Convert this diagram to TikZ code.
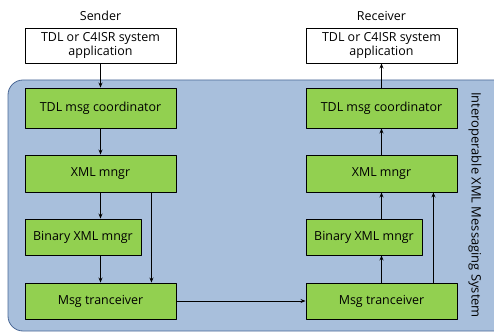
\documentclass[tikz,border=0pt]{standalone}
\usepackage{fontspec}
\setmainfont{Open Sans}
\usetikzlibrary{arrows.meta}
\definecolor{regionblue}{RGB}{168,191,220}
\definecolor{regionedge}{RGB}{74,104,150}
\definecolor{boxgreen}{RGB}{146,208,80}
\begin{document}
\begin{tikzpicture}[>={Stealth[length=5pt,width=4pt]},line join=bevel,
  every node/.style={font=\fontsize{12.5}{15}\selectfont},
  appbox/.style={draw,fill=white,line width=0.9bp,minimum width=151bp,minimum height=35bp,inner sep=0pt,align=center},
  compbox/.style={draw,fill=boxgreen,line width=0.9bp,minimum width=151bp,minimum height=37bp,inner sep=0pt},
  link/.style={black,line width=0.9bp,->}]
\useasboundingbox (0bp,0bp) rectangle (494bp,332bp);
%%
\fill[regionblue,draw=regionedge,line width=0.8bp,rounded corners=15bp] (8bp,1bp) rectangle (510bp,252bp);
\node (sender) at (100.5bp,316bp) {Sender};
\node (receiver) at (381.5bp,316bp) {Receiver};
  \node (app_s) at (100.5bp,286.5bp) [appbox] {TDL or C4ISR system\\[-1pt]application};
  \node (coord_s) at (100.5bp,224bp) [compbox,minimum height=40bp] {TDL msg coordinator};
  \node (xml_s) at (100.5bp,158.5bp) [compbox] {XML mngr};
  \node (bin_s) at (83bp,95bp) [compbox,minimum width=116bp,minimum height=36bp] {Binary XML mngr};
  \node (msg_s) at (100.5bp,31bp) [compbox,minimum height=36bp] {Msg tranceiver};
  \node (app_r) at (381.5bp,286.5bp) [appbox] {TDL or C4ISR system\\[-1pt]application};
  \node (coord_r) at (381.5bp,224bp) [compbox,minimum height=40bp] {TDL msg coordinator};
  \node (xml_r) at (381.5bp,158.5bp) [compbox] {XML mngr};
  \node (bin_r) at (364bp,95bp) [compbox,minimum width=116bp,minimum height=36bp] {Binary XML mngr};
  \node (msg_r) at (381.5bp,31bp) [compbox,minimum height=36bp] {Msg tranceiver};
  \node (system) at (475bp,127bp) [rotate=-90,font=\fontsize{13}{15}\selectfont] {Interoperable XML Messaging System};
  \draw [link] (app_s) -- (coord_s);
  \draw [link] (coord_s) -- (xml_s);
  \draw [link] (xml_s.south) -- (xml_s.south |- bin_s.north);
  \draw [link] (msg_s.north |- bin_s.south) -- (msg_s.north);
  \draw [link] ([xshift=-25bp]xml_s.south east) -- ([xshift=-25bp]msg_s.north east);
  \draw [link] (msg_s) -- (msg_r);
  \draw [link] (msg_r.north |- bin_r.north) -- (xml_r.south);
  \draw [link] (msg_r.north) -- (msg_r.north |- bin_r.south);
  \draw [link] ([xshift=-24bp]msg_r.north east) -- ([xshift=-24bp]xml_r.south east);
  \draw [link] (xml_r) -- (coord_r);
  \draw [link] (coord_r) -- (app_r);
%
\end{tikzpicture}
\end{document}
